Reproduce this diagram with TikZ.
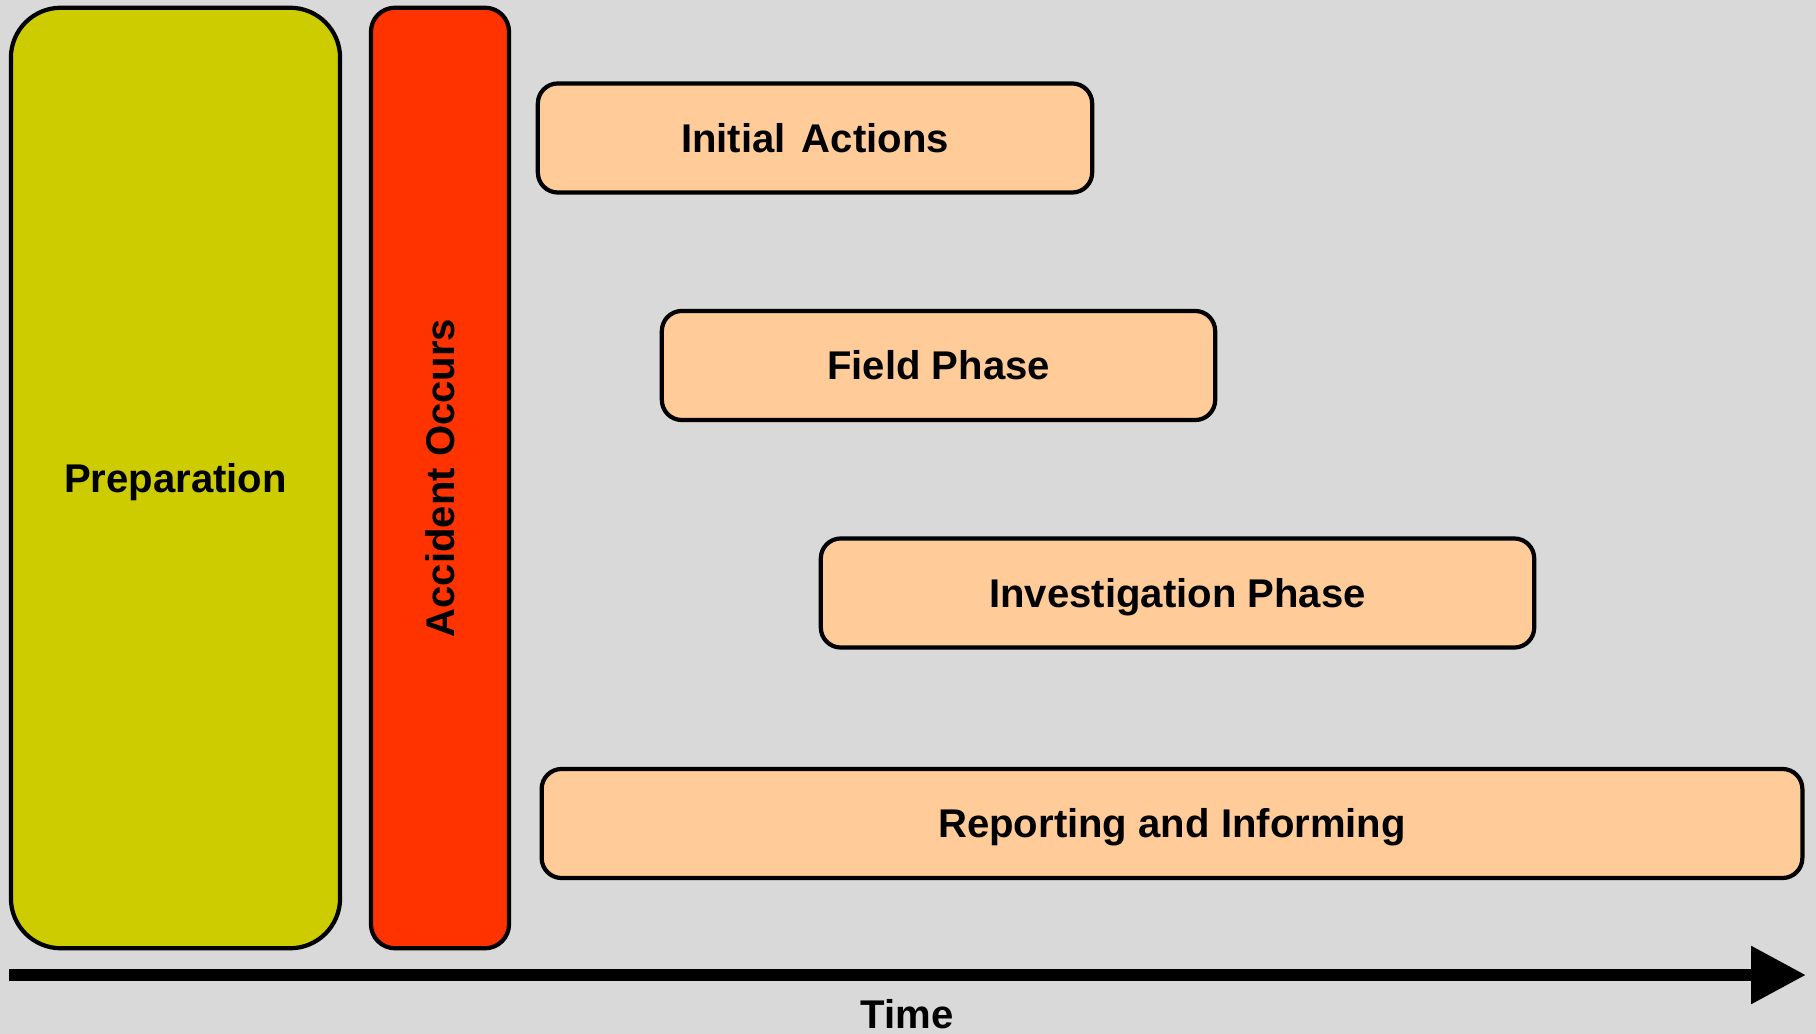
\documentclass[tikz,border=0pt]{standalone}
\usepackage{fontspec}
\setmainfont{Liberation Sans}
\usetikzlibrary{arrows.meta}
\definecolor{bgcol}{HTML}{D9D9D9}
\definecolor{prepcol}{HTML}{CCCC00}
\definecolor{redcol}{HTML}{FF3300}
\definecolor{phasecol}{HTML}{FFCC99}
\tikzset{
  boxbase/.style={draw=black, line width=1.2pt, inner sep=0pt, align=center,
    font=\fontsize{11.4}{13.7}\selectfont\bfseries, text height=0.96em, text depth=0.16em},
  prepbox/.style={boxbase, fill=prepcol, rounded corners=0.5cm},
  accbox/.style={boxbase, fill=redcol, rounded corners=0.24cm},
  phasebox/.style={boxbase, fill=phasecol, rounded corners=0.2cm, minimum height=1.09cm},
  timearrow/.style={line width=3.4pt, -{Triangle[length=15.6pt,width=15.6pt]}},
  timelabel/.style={font=\fontsize{11.4}{13.7}\selectfont\bfseries, inner sep=0pt}
}
\begin{document}
\begin{tikzpicture}[x=0.01cm, y=-0.01cm]
  \fill[bgcol] (0,0) rectangle (1816,1034);
  \useasboundingbox (0,0) rectangle (1816,1034);
  \node[prepbox, minimum width=3.29cm, minimum height=9.40cm] (prep) at (175.5,478) {Preparation};
  \node[accbox, rotate=90, minimum width=9.40cm, minimum height=1.38cm] (acc) at (440,478) {Accident Occurs};
  \node[phasebox, minimum width=5.54cm] (init) at (815,138) {Initial\hspace{0.4em}Actions};
  \node[phasebox, minimum width=5.53cm] (field) at (938.5,365.5) {Field Phase};
  \node[phasebox, minimum width=7.13cm] (inv) at (1177.5,593) {Investigation Phase};
  \node[phasebox, minimum width=12.60cm] (rep) at (1172,823.5) {Reporting and Informing};
  \coordinate (tstart) at (9,975);
  \coordinate (tend) at (1806,975);
  \draw[timearrow] (tstart) -- (tend);
  \node[timelabel] (time) at (907,1014) {Time};
\end{tikzpicture}
\end{document}
